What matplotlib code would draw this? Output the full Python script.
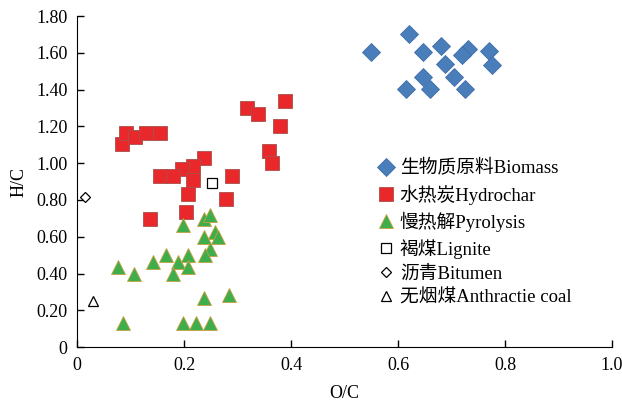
import matplotlib
matplotlib.use("Agg")
import matplotlib.pyplot as plt

plt.rcParams['font.family'] = ['Liberation Serif', 'Noto Sans CJK SC']
plt.rcParams['font.size'] = 13

# O/C, H/C values
biomass_x = [0.549, 0.620, 0.646, 0.680, 0.730, 0.720, 0.770, 0.776, 0.687, 0.646, 0.705, 0.615, 0.660, 0.726]
biomass_y = [1.605, 1.705, 1.605, 1.638, 1.623, 1.587, 1.610, 1.536, 1.542, 1.469, 1.469, 1.406, 1.406, 1.406]

hydro_x = [0.083, 0.091, 0.108, 0.128, 0.154, 0.318, 0.338, 0.389, 0.379, 0.359, 0.364, 0.238,
           0.217, 0.196, 0.154, 0.179, 0.217, 0.289, 0.208, 0.279, 0.203, 0.137]
hydro_y = [1.102, 1.167, 1.140, 1.167, 1.167, 1.303, 1.266, 1.337, 1.201, 1.067, 1.002, 1.031,
           0.985, 0.971, 0.931, 0.931, 0.908, 0.931, 0.835, 0.803, 0.735, 0.699]

pyro_x = [0.077, 0.107, 0.142, 0.167, 0.189, 0.208, 0.179, 0.208, 0.198, 0.237, 0.248,
          0.257, 0.237, 0.264, 0.248, 0.239, 0.237, 0.284, 0.086, 0.198, 0.222, 0.248]
pyro_y = [0.433, 0.397, 0.464, 0.500, 0.464, 0.500, 0.397, 0.433, 0.663, 0.694, 0.717,
          0.627, 0.596, 0.600, 0.536, 0.500, 0.265, 0.283, 0.129, 0.129, 0.129, 0.129]

lignite_x, lignite_y = [0.253], [0.893]
bitumen_x, bitumen_y = [0.015], [0.817]
anthra_x, anthra_y = [0.030], [0.252]

fig = plt.figure(figsize=(6.22, 4.04), dpi=100)
ax = fig.add_axes([0.124, 0.141, 0.860, 0.819])

ax.plot(biomass_x, biomass_y, 'D', ms=9, color='#4A7EBB', mec='#3E6EA8', mew=0.6,
        label='生物质原料Biomass')
ax.plot(hydro_x, hydro_y, 's', ms=10, color='#E8282B', mec='#A8504A', mew=0.6,
        label='水热炭Hydrochar')
ax.plot(pyro_x, pyro_y, '^', ms=10.5, color='#3DAE4B', mec='#C8A040', mew=0.6,
        label='慢热解Pyrolysis')
ax.plot(lignite_x, lignite_y, 's', ms=6.5, mfc='white', mec='black', mew=0.9,
        label='褐煤Lignite')
ax.plot(bitumen_x, bitumen_y, 'D', ms=5, mfc='white', mec='black', mew=0.9,
        label='沥青Bitumen')
ax.plot(anthra_x, anthra_y, '^', ms=7, mfc='white', mec='black', mew=0.9,
        label='无烟煤Anthractie coal')

ax.set_xlim(0, 1.0)
ax.set_ylim(0, 1.80)
ax.set_xticks([0, 0.2, 0.4, 0.6, 0.8, 1.0])
ax.set_xticklabels(['0', '0.2', '0.4', '0.6', '0.8', '1.0'])
ax.set_yticks([0, 0.2, 0.4, 0.6, 0.8, 1.0, 1.2, 1.4, 1.6, 1.8])
ax.set_yticklabels(['0', '0.20', '0.40', '0.60', '0.80', '1.00', '1.20', '1.40', '1.60', '1.80'])
ax.tick_params(direction='in', length=5, width=1, pad=7)
ax.spines['top'].set_visible(False)
ax.spines['right'].set_visible(False)
ax.set_xlabel('O/C', labelpad=8)
ax.set_ylabel('H/C', labelpad=6)

ax.legend(loc='upper left', bbox_to_anchor=(0.608, 0.605), bbox_transform=fig.transFigure,
          frameon=False, borderpad=0, borderaxespad=0,
          handlelength=0.8, handletextpad=0.35, labelspacing=0.37, fontsize=13.5)

fig.savefig('out.png', dpi=100)
